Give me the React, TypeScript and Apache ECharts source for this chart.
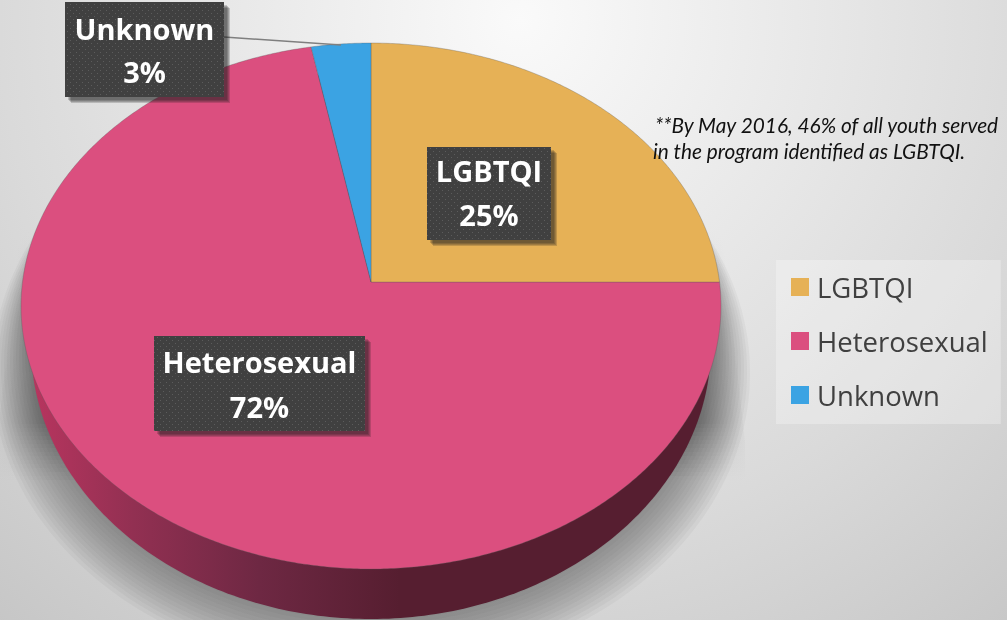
import React, { useEffect, useRef } from "react";
import * as echarts from "echarts";

const categories = ["LGBTQI", "Heterosexual", "Unknown"];
const shares = [25, 72, 3];
const sliceColors = ["#E6B156", "#DB4F7F", "#3BA3E3"];
const noteLines = [
  "**By May 2016, 46% of all youth served",
  "in the program identified as LGBTQI.",
];

// Perspective disc: apex is the projected circle centre
const APEX_X = 371;
const APEX_Y = 282;
const SCALE_X = 348.5;
const SCALE_Y = 260.8;
const PERSP = 0.0913;

function project(frac: number): number[] {
  const t = 2 * Math.PI * frac;
  const u = Math.sin(t);
  const v = Math.cos(t);
  const d = 1 + PERSP * v;
  return [APEX_X + (SCALE_X * u) / d, APEX_Y - (SCALE_Y * v) / d];
}

function ellipsePoints(cx: number, cy: number, rx: number, ry: number): number[][] {
  const pts: number[][] = [];
  for (let i = 0; i < 360; i++) {
    const t = (i / 180) * Math.PI;
    pts.push([cx + rx * Math.cos(t), cy + ry * Math.sin(t)]);
  }
  return pts;
}

const total = shares.reduce((a, b) => a + b, 0);

function makeRenderItem(index: number) {
  return (_params: any, api: any) => {
    const value = api.value(0);
    let before = 0;
    for (let i = 0; i < index; i++) before += shares[i];
    const start = before / total;
    const end = (before + value) / total;
    const pts: number[][] = [[APEX_X, APEX_Y]];
    const steps = Math.max(4, Math.round((end - start) * 720));
    for (let i = 0; i <= steps; i++) pts.push(project(start + ((end - start) * i) / steps));
    const top = {
      type: "polygon",
      shape: { points: pts },
      style: { fill: sliceColors[index], stroke: "rgba(90,90,90,0.45)", lineWidth: 0.7 },
    };
    if (index !== 1) return top;
    return {
      type: "group",
      children: [
        {
          type: "polygon",
          shape: { points: ellipsePoints(371, 345.5, 340, 273.5) },
          style: {
            fill: {
              type: "linear",
              global: true,
              x: 30,
              y: 0,
              x2: 400,
              y2: 0,
              colorStops: [
                { offset: 0, color: "#B8355F" },
                { offset: 0.28, color: "#923052" },
                { offset: 0.62, color: "#6E2843" },
                { offset: 1, color: "#561E30" },
              ],
            },
          },
        },
        top,
      ],
    };
  };
}

function dotTile(): HTMLCanvasElement {
  const c = document.createElement("canvas");
  c.width = 6;
  c.height = 6;
  const g = c.getContext("2d")!;
  g.fillStyle = "#404040";
  g.fillRect(0, 0, 6, 6);
  g.fillStyle = "#5C5C5C";
  g.fillRect(1, 1, 1, 1);
  g.fillRect(4, 4, 1, 1);
  return c;
}

function labelBox(
  index: number,
  x: number,
  y: number,
  w: number,
  h: number,
  y1: number,
  y2: number,
  tile: HTMLCanvasElement
) {
  const font = { fontFamily: "Open Sans", fontWeight: "bold", fontSize: 29, fill: "#FFFFFF", textAlign: "center", textVerticalAlign: "middle" };
  const soft = [0, 1, 2, 3].map((i) => ({
    type: "rect",
    z: 10,
    shape: { x: x + 3 + i, y: y + 3 + i, width: w, height: h },
    style: { fill: "rgba(30,30,30,0.2)" },
  }));
  return [
    ...soft,
    { type: "rect", z: 11, shape: { x, y, width: w, height: h }, style: { fill: { image: tile, repeat: "repeat" } } },
    { type: "text", z: 12, style: { ...font, text: categories[index], x: x + w / 2, y: y + y1 } },
    { type: "text", z: 12, style: { ...font, text: shares[index] + "%", x: x + w / 2, y: y + y2 } },
  ];
}

// Soft ground shadow around the disc, built from stacked translucent ellipses
function groundShadow() {
  const out: any[] = [];
  for (let i = 13; i >= 0; i--) {
    out.push({
      type: "ellipse",
      z: -4,
      shape: { cx: 371, cy: 347 + i * 2, rx: 340 + i * 3, ry: 273 + i * 2 },
      style: { fill: "rgba(85,85,85,0.05)" },
    });
  }
  return out;
}

// Thin wedges of shadow that flank the disc and fade out at both ends
function sideShadow() {
  const out: any[] = [];
  for (let y = 232; y < 480; y += 4) {
    const a = y < 420 ? 0.8 * Math.pow((y - 228) / 192, 1.4) : 0.8 * Math.max(0, 1 - (y - 420) / 60);
    const half = 351 + 23 * Math.min(1, Math.max(0, (y - 230) / 210));
    const inner = y < 370 ? 350 * Math.sqrt(1 - Math.pow((y - 306) / 263, 2)) : 340 * Math.sqrt(1 - Math.pow((y - 345.5) / 273.5, 2));
    [1, -1].forEach((sign) => {
      const xIn = 371 + sign * (inner - 3);
      const xOut = 371 + sign * half;
      out.push({
        type: "rect",
        z: -5,
        shape: { x: Math.min(xIn, xOut), y, width: Math.abs(xOut - xIn), height: 4 },
        style: {
          fill: {
            type: "linear",
            global: true,
            x: xIn,
            y: 0,
            x2: xOut,
            y2: 0,
            colorStops: [
              { offset: 0, color: `rgba(120,120,120,${a.toFixed(3)})` },
              { offset: 1, color: `rgba(170,170,170,${(a * 0.15).toFixed(3)})` },
            ],
          },
        },
      });
    });
  }
  return out;
}

export default function App() {
  const ref = useRef<HTMLDivElement>(null);
  useEffect(() => {
    const chart = echarts.init(ref.current!, undefined, { renderer: "svg" });
    const tile = dotTile();
    const noteStyle = { fontFamily: "Lato", fontStyle: "italic", fontSize: 20.8, fill: "#111111", textVerticalAlign: "middle" };
    chart.setOption({
      animation: false,
      legend: {
        data: categories,
        left: 776,
        top: 260,
        orient: "vertical",
        icon: "rect",
        itemWidth: 18,
        itemHeight: 18,
        itemGap: 26,
        padding: [13, 13, 15, 15],
        backgroundColor: "rgba(255,255,255,0.28)",
        selectedMode: false,
        textStyle: { fontFamily: "Open Sans", fontSize: 27.5, color: "#404040", padding: [0, 0, 0, 3] },
      },
      graphic: [
        {
          type: "rect",
          z: -10,
          shape: { x: 0, y: 0, width: 1007, height: 620 },
          style: {
            fill: {
              type: "radial",
              global: true,
              x: 520,
              y: 20,
              r: 800,
              colorStops: [
                { offset: 0, color: "#FAFAFA" },
                { offset: 0.65, color: "#DADADA" },
                { offset: 1, color: "#C6C6C6" },
              ],
            },
          },
        },
        ...sideShadow(),
        ...groundShadow(),
        {
          type: "line",
          z: 9,
          shape: { x1: 224, y1: 37, x2: 341, y2: 45 },
          style: { stroke: "#7F7F7F", lineWidth: 1.5 },
        },
        ...labelBox(2, 65, 2, 159, 95, 26, 69, tile),
        ...labelBox(0, 427, 147, 124, 93, 23, 67, tile),
        ...labelBox(1, 154, 336, 211, 95, 25.5, 70, tile),
        { type: "text", z: 12, style: { ...noteStyle, text: noteLines[0], x: 655, y: 124 } },
        { type: "text", z: 12, style: { ...noteStyle, text: noteLines[1], x: 653, y: 150 } },
      ],
      series: categories.map((name, i) => ({
        type: "custom",
        name,
        coordinateSystem: "none",
        z: i === 1 ? 2 : 3,
        silent: true,
        itemStyle: { color: sliceColors[i] },
        renderItem: makeRenderItem(i),
        data: [[shares[i]]],
      })),
    });
    return () => chart.dispose();
  }, []);
  return <div ref={ref} style={{ position: "fixed", left: 0, top: 0, width: 1007, height: 620 }} />;
}
